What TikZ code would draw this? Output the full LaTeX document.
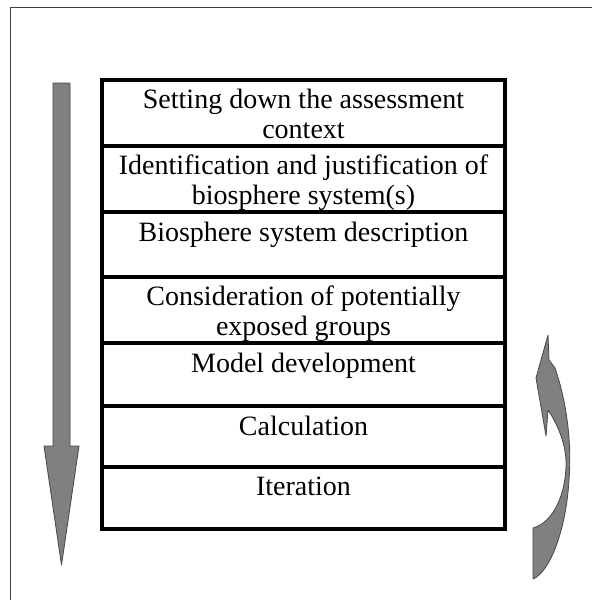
\documentclass[tikz,border=0pt]{standalone}
\usepackage{fontspec}
\setmainfont{Liberation Serif}
\usepackage{tikz}
\usetikzlibrary{positioning}

\tikzset{
  stagebox/.style={draw, line width=4pt, outer sep=0pt, inner sep=0pt, minimum width=403pt},
  stagetext/.style={align=center, inner sep=0pt, font=\fontsize{28}{30}\selectfont},
  bigarrow/.style={fill=black!50, draw=black!72, line width=0.8pt, line join=round},
}

\begin{document}
\begin{tikzpicture}[x=1pt,y=-1pt]
\useasboundingbox (0,0) rectangle (592,600);
\draw[black!75, line width=1.5pt] (10.5,600)--(10.5,7.5)--(592,7.5);
% the stages
\node[stagebox, minimum height=66pt, anchor=north] (s1) at (303.5,80) {};
\node[stagebox, minimum height=66pt, below=0pt of s1] (s2) {};
\node[stagebox, minimum height=65pt, below=0pt of s2] (s3) {};
\node[stagebox, minimum height=66pt, below=0pt of s3] (s4) {};
\node[stagebox, minimum height=63pt, below=0pt of s4] (s5) {};
\node[stagebox, minimum height=61pt, below=0pt of s5] (s6) {};
\node[stagebox, minimum height=62pt, below=0pt of s6] (s7) {};
\node[stagetext, below=9pt of s1.north] (t1) {Setting down the assessment\\context};
\node[stagetext, below=9pt of s2.north] (t2) {Identification and justification of\\biosphere system(s)};
\node[stagetext, below=10pt of s3.north] (t3) {Biosphere system description};
\node[stagetext, below=9pt of s4.north] (t4) {Consideration of potentially\\exposed groups};
\node[stagetext, below=10pt of s5.north] (t5) {Model development};
\node[stagetext, below=10pt of s6.north] (t6) {Calculation};
\node[stagetext, below=10pt of s7.north] (t7) {Iteration};
% down arrow
\filldraw[bigarrow] (53,83)--(70,83)--(70,446)--(79,446)--(61.5,565)--(44,446)--(53,446)--cycle;
% curved arrow
\filldraw[bigarrow] (548,335)--(549,360)--(555,368)
  .. controls (566,400) and (572,440) .. (569,480)
  .. controls (566,530) and (550,572) .. (533,579)
  --(533,528)
  .. controls (555,522) and (567,490) .. (566,460)
  .. controls (565,440) and (555,420) .. (548,410)
  --(546,436)--(536,378)--cycle;
\end{tikzpicture}
\end{document}
